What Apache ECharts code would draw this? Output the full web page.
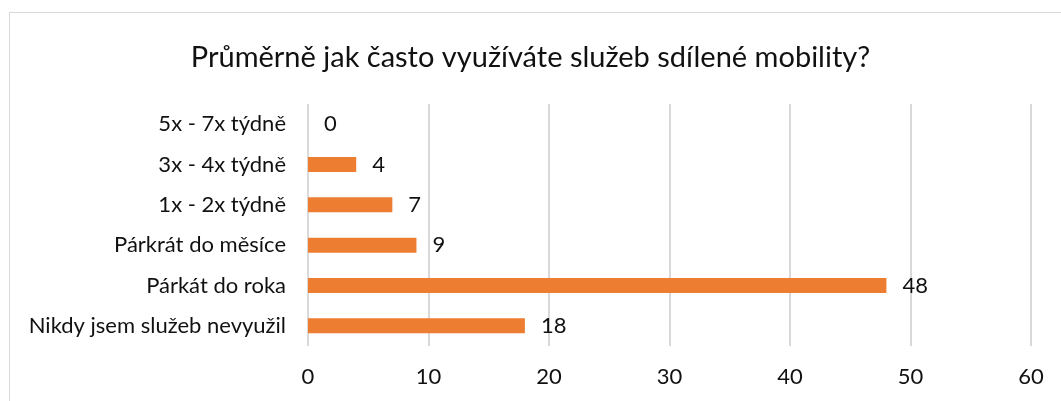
<!DOCTYPE html>
<html>
<head>
<meta charset="utf-8">
<script src="https://cdn.jsdelivr.net/npm/echarts@6/dist/echarts.min.js"></script>
<style>
html,body{margin:0;padding:0;background:#fff;}
#frame{position:absolute;left:9px;top:12px;width:1060px;height:400px;border:1px solid #d9d9d9;box-sizing:border-box;}
#chart{position:absolute;left:0;top:0;width:1061px;height:401px;}
</style>
</head>
<body>
<div id="frame"></div>
<div id="chart"></div>
<script>
const titleText = "Průměrně jak často využíváte služeb sdílené mobility?";
const categories = ["Nikdy jsem služeb nevyužil", "Párkát do roka", "Párkrát do měsíce", "1x - 2x týdně", "3x - 4x týdně", "5x - 7x týdně"];
const values = [18, 48, 9, 7, 4, 0];
const xTicks = { min: 0, max: 60, interval: 10 };

const chart = echarts.init(document.getElementById('chart'), null, { renderer: 'canvas' });
const font = "Lato, 'Open Sans', sans-serif";
chart.setOption({
  animation: false,
  title: {
    text: titleText,
    left: 'center',
    top: 38,
    textStyle: { fontFamily: font, fontSize: 29, fontWeight: 'normal', color: '#111' }
  },
  grid: { left: 308, right: 30, top: 104, bottom: 55, containLabel: false },
  xAxis: {
    type: 'value',
    min: xTicks.min, max: xTicks.max, interval: xTicks.interval,
    axisLine: { show: false },
    axisTick: { show: false },
    splitLine: { show: true, lineStyle: { color: '#d9d9d9', width: 2 } },
    axisLabel: { fontFamily: font, fontSize: 22, color: '#111', margin: 20 }
  },
  yAxis: {
    type: 'category',
    data: categories,
    axisLine: { show: false },
    axisTick: { show: false },
    axisLabel: { fontFamily: font, fontSize: 22, color: '#111', margin: 22 }
  },
  series: [{
    type: 'bar',
    data: values,
    barWidth: 15,
    itemStyle: { color: '#ED7D31' },
    label: {
      show: true, position: 'right', distance: 16,
      fontFamily: font, fontSize: 22, color: '#111'
    }
  }]
});
</script>
</body>
</html>
